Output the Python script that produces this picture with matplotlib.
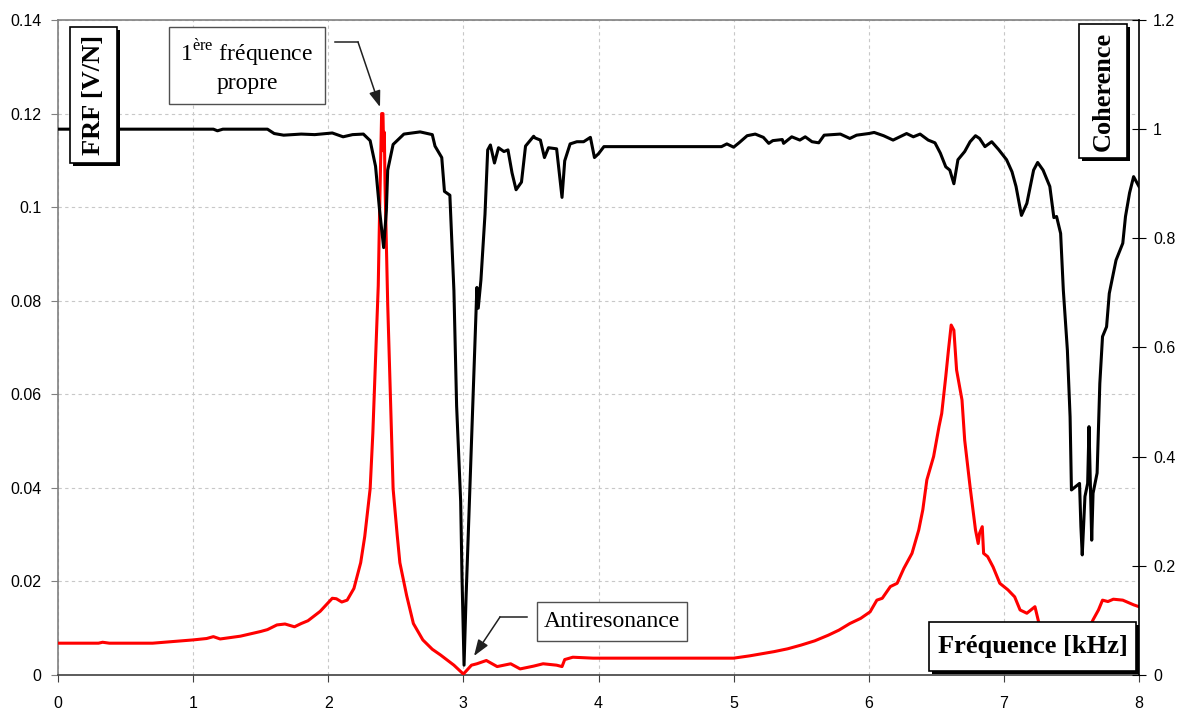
import numpy as np
import matplotlib
matplotlib.use("Agg")
import matplotlib.pyplot as plt
from matplotlib.patches import Rectangle, FancyArrowPatch
from matplotlib.lines import Line2D

# ── données ───────────────────────────────────────────────────────────────────
freq_frf = [0.0, 0.3, 0.33, 0.38, 0.7, 1.0, 1.1, 1.15, 1.2, 1.35, 1.5, 1.55,
            1.62, 1.68, 1.75, 1.8, 1.85, 1.94, 2.03, 2.06, 2.1, 2.14, 2.19,
            2.24, 2.27, 2.31, 2.33, 2.35, 2.37, 2.38, 2.395, 2.405, 2.41,
            2.415, 2.42, 2.44, 2.46, 2.48, 2.51, 2.53, 2.58, 2.63, 2.70,
            2.77, 2.83, 2.93, 3.00, 3.06, 3.10, 3.17, 3.25, 3.35, 3.42, 3.52,
            3.59, 3.69, 3.73, 3.75, 3.81, 3.96, 4.90, 5.00, 5.12, 5.2, 5.3,
            5.4, 5.5, 5.6, 5.7, 5.78, 5.86, 5.94, 6.01, 6.06, 6.10, 6.16,
            6.21, 6.26, 6.32, 6.37, 6.40, 6.43, 6.48, 6.52, 6.54, 6.57, 6.59,
            6.61, 6.63, 6.65, 6.69, 6.71, 6.75, 6.79, 6.81, 6.82, 6.84, 6.85,
            6.88, 6.92, 6.97, 7.03, 7.08, 7.12, 7.17, 7.23, 7.26, 7.35, 7.5,
            7.6, 7.66, 7.70, 7.73, 7.77, 7.81, 7.88, 7.92, 7.96, 8.0]
frf = [0.0068, 0.0068, 0.0070, 0.0068, 0.0068, 0.0075, 0.0078, 0.0082,
       0.0077, 0.0083, 0.0093, 0.0097, 0.0107, 0.0109, 0.0103, 0.0110,
       0.0116, 0.0136, 0.0164, 0.0163, 0.0156, 0.0160, 0.0185, 0.0240,
       0.0296, 0.0398, 0.0517, 0.0675, 0.0832, 0.0990, 0.1200, 0.1200,
       0.1120, 0.1160, 0.1050, 0.0793, 0.0596, 0.0398, 0.0300, 0.0240,
       0.0170, 0.0110, 0.0075, 0.0055, 0.0043, 0.0021, 0.0002, 0.0021,
       0.0024, 0.0031, 0.0018, 0.0024, 0.0013, 0.0019, 0.0024, 0.0021,
       0.0018, 0.0033, 0.0038, 0.0036, 0.0036, 0.0036, 0.0041, 0.0045,
       0.0050, 0.0056, 0.0064, 0.0073, 0.0085, 0.0096, 0.0110, 0.0121,
       0.0135, 0.0160, 0.0164, 0.0189, 0.0196, 0.0228, 0.0260, 0.0310,
       0.0353, 0.0417, 0.0467, 0.0531, 0.0559, 0.0638, 0.0695, 0.0748,
       0.0737, 0.0652, 0.0588, 0.0502, 0.0402, 0.0310, 0.0281, 0.0303,
       0.0317, 0.0260, 0.0253, 0.0231, 0.0196, 0.0182, 0.0167, 0.0139,
       0.0132, 0.0146, 0.0110, 0.0070, 0.0050, 0.0080, 0.0118, 0.0139,
       0.0160, 0.0157, 0.0162, 0.0160, 0.0155, 0.0150, 0.0146]

freq_coh = [0.0, 1.15, 1.18, 1.22, 1.55, 1.6, 1.67, 1.8, 1.9, 2.03, 2.11,
            2.18, 2.26, 2.31, 2.35, 2.38, 2.41, 2.43, 2.44, 2.48, 2.56, 2.68,
            2.77, 2.79, 2.84, 2.86, 2.90, 2.93, 2.95, 2.98, 2.99, 3.005, 3.02,
            3.05, 3.08, 3.10, 3.11, 3.13, 3.16, 3.18, 3.20, 3.23, 3.26, 3.30,
            3.33, 3.36, 3.39, 3.43, 3.46, 3.52, 3.53, 3.57, 3.60, 3.63, 3.69,
            3.73, 3.75, 3.79, 3.84, 3.89, 3.94, 3.97, 4.00, 4.04, 4.91, 4.95,
            5.00, 5.04, 5.10, 5.16, 5.22, 5.26, 5.29, 5.36, 5.37, 5.43, 5.49,
            5.53, 5.58, 5.63, 5.67, 5.79, 5.86, 5.91, 6.00, 6.04, 6.11, 6.18,
            6.23, 6.28, 6.33, 6.38, 6.44, 6.49, 6.53, 6.57, 6.60, 6.63, 6.66,
            6.71, 6.75, 6.79, 6.82, 6.86, 6.91, 6.96, 7.02, 7.06, 7.09, 7.13,
            7.17, 7.22, 7.25, 7.29, 7.34, 7.37, 7.39, 7.42, 7.44, 7.47, 7.49,
            7.50, 7.53, 7.56, 7.57, 7.58, 7.60, 7.62, 7.63, 7.64, 7.65, 7.66,
            7.69, 7.71, 7.73, 7.76, 7.78, 7.83, 7.88, 7.90, 7.93, 7.96, 7.98,
            8.00]
coh = [1.0, 1.0, 0.997, 1.0, 1.0, 0.992, 0.989, 0.991, 0.990, 0.993, 0.986,
       0.990, 0.991, 0.979, 0.932, 0.851, 0.783, 0.851, 0.925, 0.972, 0.991,
       0.995, 0.990, 0.969, 0.948, 0.886, 0.879, 0.704, 0.493, 0.318, 0.178,
       0.018, 0.143, 0.354, 0.563, 0.710, 0.672, 0.724, 0.844, 0.962, 0.971,
       0.938, 0.966, 0.959, 0.962, 0.920, 0.889, 0.903, 0.969, 0.987, 0.984,
       0.980, 0.948, 0.966, 0.964, 0.875, 0.942, 0.973, 0.977, 0.977, 0.985,
       0.948, 0.955, 0.968, 0.968, 0.973, 0.967, 0.975, 0.988, 0.991, 0.985,
       0.974, 0.979, 0.981, 0.974, 0.986, 0.980, 0.986, 0.977, 0.975, 0.989,
       0.991, 0.983, 0.989, 0.992, 0.994, 0.988, 0.980, 0.986, 0.992, 0.986,
       0.991, 0.980, 0.975, 0.956, 0.931, 0.925, 0.900, 0.944, 0.959, 0.977,
       0.988, 0.983, 0.968, 0.977, 0.963, 0.944, 0.922, 0.895, 0.842, 0.864,
       0.925, 0.939, 0.925, 0.895, 0.838, 0.840, 0.809, 0.705, 0.595, 0.473,
       0.339, 0.345, 0.351, 0.272, 0.220, 0.327, 0.351, 0.455, 0.351, 0.247,
       0.333, 0.370, 0.534, 0.620, 0.638, 0.699, 0.760, 0.791, 0.840, 0.883,
       0.913, 0.904, 0.895]

x_ticks = [0, 1, 2, 3, 4, 5, 6, 7, 8]
frf_ticks = [0, 0.02, 0.04, 0.06, 0.08, 0.10, 0.12, 0.14]
frf_labels = ["0", "0.02", "0.04", "0.06", "0.08", "0.1", "0.12", "0.14"]
coh_ticks = [0, 0.2, 0.4, 0.6, 0.8, 1.0, 1.2]
coh_labels = ["0", "0.2", "0.4", "0.6", "0.8", "1", "1.2"]

# ── figure ────────────────────────────────────────────────────────────────────
plt.rcParams["font.family"] = "Liberation Sans"
plt.rcParams["mathtext.fontset"] = "custom"
plt.rcParams["mathtext.rm"] = "Liberation Serif"

W, H = 1186, 711
fig = plt.figure(figsize=(W / 100, H / 100), dpi=100)
ax = fig.add_axes([58 / W, 36 / H, (1139 - 58) / W, (675 - 20) / H])
ax2 = ax.twinx()

ax.plot(freq_frf, frf, color="#ff0000", lw=2.2, zorder=3)
ax2.plot(freq_coh, coh, color="black", lw=2.2, zorder=3)

ax.set_xlim(0, 8)
ax.set_ylim(0, 0.14)
ax2.set_ylim(0, 1.2)
ax.set_xticks(x_ticks)
ax.set_xticklabels([str(v) for v in x_ticks])
ax.set_yticks(frf_ticks)
ax.set_yticklabels(frf_labels)
ax2.set_yticks(coh_ticks)
ax2.set_yticklabels(coh_labels)

ax.grid(True, color="#c8c8c8", ls=(0, (3, 3)), lw=0.8)
ax.set_axisbelow(True)

for s in ["top", "left"]:
    ax.spines[s].set_color("#808080")
ax.spines["bottom"].set_color("#404040")
ax.spines["right"].set_visible(False)
for s in ["top", "left", "bottom"]:
    ax2.spines[s].set_visible(False)
ax2.spines["right"].set_color("black")
for sp in list(ax.spines.values()) + list(ax2.spines.values()):
    sp.set_linewidth(1.2)

ax.tick_params(axis="y", direction="out", length=5, color="#808080",
               labelsize=11.5, pad=7)
ax.tick_params(axis="x", direction="out", length=5, color="#404040",
               labelsize=11.5, pad=10)
ax2.tick_params(axis="y", direction="inout", length=10, color="black",
                labelsize=11.5, pad=5)


# ── boîtes de texte (coordonnées en pixels, origine en haut à gauche) ─────────
def fpos(x, y):
    return (x / W, 1 - y / H)


def boite(x0, y0, x1, y1, shadow=False, ec="black", lw=1.2):
    if shadow:
        fig.add_artist(Rectangle(fpos(x0 + 3, y1 + 3), (x1 - x0) / W, (y1 - y0) / H,
                                 transform=fig.transFigure, fc="black",
                                 ec="none", zorder=10))
    fig.add_artist(Rectangle(fpos(x0, y1), (x1 - x0) / W, (y1 - y0) / H,
                             transform=fig.transFigure, fc="white",
                             ec=ec, lw=lw, zorder=11))


def fleche(pts):
    (xa, ya), (xb, yb), (xc, yc) = pts
    fig.add_artist(Line2D([xa / W, xb / W], [1 - ya / H, 1 - yb / H],
                          transform=fig.transFigure, color="#202020",
                          lw=1.1, zorder=12))
    fig.add_artist(FancyArrowPatch(fpos(xb, yb), fpos(xc, yc),
                                   transform=fig.transFigure,
                                   arrowstyle="-|>,head_length=0.7,head_width=0.25",
                                   mutation_scale=14, lw=1.1, color="#202020",
                                   shrinkA=0, shrinkB=0, zorder=12))


serif = "Liberation Serif"

boite(70, 27, 117, 163, shadow=True)
fig.text(*fpos(93.5, 95), "FRF [V/N]", rotation=90, ha="center", va="center",
         family=serif, fontsize=19, fontweight="bold", zorder=13)

boite(1079, 24, 1127, 158, shadow=True)
fig.text(*fpos(1103, 91), "Coherence", rotation=90, ha="center", va="center",
         family=serif, fontsize=19, fontweight="bold", zorder=13)

boite(929, 622, 1136, 671, shadow=True)
fig.text(*fpos(1032.5, 646.5), "Fréquence [kHz]", ha="center", va="center",
         family=serif, fontsize=19, fontweight="bold", zorder=13)

boite(169, 27, 325, 104, ec="#505050", lw=1.0)
fig.text(*fpos(247, 65.5), "1$^{\\mathrm{ère}}$ fréquence\npropre",
         ha="center", va="center", family=serif, fontsize=17,
         linespacing=1.25, zorder=13)
fleche([(335, 42), (358, 42), (380, 107)])

boite(537, 602, 687, 641, ec="#505050", lw=1.0)
fig.text(*fpos(612, 621.5), "Antiresonance", ha="center", va="center",
         family=serif, fontsize=17, zorder=13)
fleche([(527, 617), (500, 617), (474, 656)])

fig.savefig("out.png", dpi=100, facecolor="white")
